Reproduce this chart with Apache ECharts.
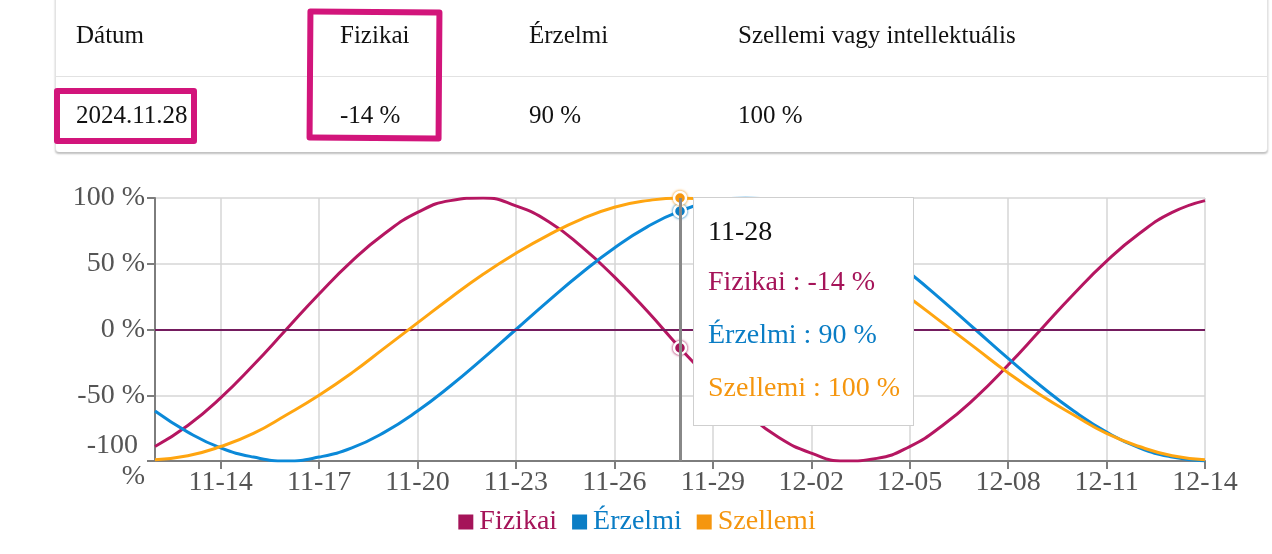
<!DOCTYPE html>
<html>
<head>
<meta charset="utf-8">
<script src="https://cdn.jsdelivr.net/npm/echarts@6/dist/echarts.min.js"></script>
<style>
  html, body { margin: 0; padding: 0; background: #fff; }
  #wrap { position: relative; width: 1272px; height: 554px; overflow: hidden; font-family: 'Liberation Serif', 'Times New Roman', serif; }
  #chart { position: absolute; left: 0; top: 0; width: 1272px; height: 554px; }
  #card { position: absolute; left: 55px; top: -12px; width: 1211px; height: 164px; background: #fff;
          border-left: 1px solid #e3e3e3; border-right: 1px solid #e3e3e3; border-radius: 0 0 4px 4px;
          box-shadow: 0 2px 2px rgba(0,0,0,0.25); z-index: 2; }
  .cell { position: absolute; font-family: 'Liberation Serif', 'Times New Roman', serif; font-size: 25px; color: #111; white-space: nowrap; line-height: 1; }
  #sep { position: absolute; left: 0; right: 0; top: 88px; height: 1px; background: #e2e2e2; }
  .mark { position: absolute; border: 6px solid #d2157b; border-radius: 3px; z-index: 3; }
</style>
</head>
<body>
<div id="wrap">
  <div id="chart"></div>
  <div id="card"></div>
  <div class="mark" id="m1" style="left:54px; top:88px; width:131px; height:44px;"></div>
  <div class="mark" id="m2" style="left:307px; top:9px; width:123px; height:120px; transform: rotate(0.4deg);"></div>
</div>
<script>
// ---- data ----
const headers = ['Dátum', 'Fizikai', 'Érzelmi', 'Szellemi vagy intellektuális'];
const rowValues = ['2024.11.28', '-14 %', '90 %', '100 %'];
const dates = ['11-12','11-13','11-14','11-15','11-16','11-17','11-18','11-19','11-20','11-21','11-22','11-23','11-24','11-25','11-26','11-27','11-28','11-29','11-30','12-01','12-02','12-03','12-04','12-05','12-06','12-07','12-08','12-09','12-10','12-11','12-12','12-13','12-14'];
const fizikai = [-89,-73,-52,-27,0,27,52,73,89,98,100,94,82,63,40,14,-14,-40,-63,-82,-94,-100,-98,-89,-73,-52,-27,0,27,52,73,89,98];
const erzelmi = [-62,-78,-90,-97,-100,-97,-90,-78,-62,-43,-22,0,22,43,62,78,90,97,100,97,90,78,62,43,22,0,-22,-43,-62,-78,-90,-97,-100];
const szellemi = [-99,-96,-89,-79,-65,-50,-33,-14,5,24,42,58,72,84,93,98,100,98,93,84,72,58,42,24,5,-14,-33,-50,-65,-79,-89,-96,-99];
const seriesNames = ['Fizikai', 'Érzelmi', 'Szellemi'];
const colors = ['#a51459', '#0a7dc5', '#f5960f'];
const yTicks = { min: -100, max: 100, interval: 50 };
const selectedIndex = 16;

// ---- table ----
const card = document.getElementById('card');
const colX = [20, 284, 473, 682];
headers.forEach((h, i) => {
  const d = document.createElement('div'); d.className = 'cell'; d.textContent = h;
  d.style.left = colX[i] + 'px'; d.style.top = '34px'; card.appendChild(d);
});
rowValues.forEach((v, i) => {
  const d = document.createElement('div'); d.className = 'cell'; d.textContent = v;
  d.style.left = colX[i] + 'px'; d.style.top = '114px'; card.appendChild(d);
});
const sep = document.createElement('div'); sep.id = 'sep'; card.appendChild(sep);

// ---- chart ----
const FONT = 'Liberation Serif';
const chart = echarts.init(document.getElementById('chart'), null, { renderer: 'canvas' });
const every3 = (idx) => idx % 3 === 2;
const dataLists = [fizikai, erzelmi, szellemi];
const ttFont = "font-family:'Liberation Serif','Times New Roman',serif;font-size:28px;";

const option = {
  animation: false,
  textStyle: { fontFamily: FONT },
  grid: { left: 155, right: 67, top: 198, bottom: 93, containLabel: false },
  tooltip: {
    trigger: 'axis',
    triggerOn: 'none',
    alwaysShowContent: true,
    backgroundColor: '#fff',
    borderColor: '#cfcfcf',
    borderWidth: 1,
    borderRadius: 0,
    padding: [10, 13, 12, 14],
    extraCssText: 'box-shadow:none;',
    textStyle: { fontFamily: FONT, fontSize: 28 },
    axisPointer: { type: 'line', lineStyle: { color: '#888', width: 3, type: 'solid' }, animation: false },
    position: function (point) { return [point[0] + 13, 197]; },
    formatter: function (params) {
      let s = '<div style="' + ttFont + 'line-height:46px;color:#111">' + params[0].axisValue + '</div>';
      params.forEach(p => {
        s += '<div style="' + ttFont + 'line-height:53px;color:' + p.color + '">' + p.seriesName + ' : ' + p.value + ' %</div>';
      });
      return s;
    }
  },
  legend: {
    bottom: 13,
    left: 'center',
    icon: 'rect',
    itemWidth: 17,
    itemHeight: 17,
    itemGap: 13,
    textStyle: { fontFamily: FONT, fontSize: 28, padding: [0, 0, 0, 0] },
    data: seriesNames.map((n, i) => ({ name: n, textStyle: { color: colors[i] } }))
  },
  xAxis: {
    type: 'category',
    data: dates,
    boundaryGap: false,
    axisLine: { onZero: false, lineStyle: { color: '#7d7d7d', width: 2 } },
    axisTick: { show: true, interval: every3, length: 8, lineStyle: { color: '#7d7d7d', width: 2 } },
    axisLabel: { interval: every3, color: '#555', fontFamily: FONT, fontSize: 28, margin: 8 },
    splitLine: { show: true, interval: every3, lineStyle: { color: '#d6d6d6', width: 1.5 } }
  },
  yAxis: {
    type: 'value',
    min: yTicks.min, max: yTicks.max, interval: yTicks.interval,
    axisLine: { show: true, lineStyle: { color: '#7d7d7d', width: 2 } },
    axisTick: { show: true, length: 8, lineStyle: { color: '#7d7d7d', width: 2 } },
    axisLabel: { formatter: '{value} %', color: '#555', fontFamily: FONT, fontSize: 28, margin: 10,
                 width: 76, overflow: 'break', lineHeight: 31, align: 'right' },
    splitLine: { show: true, lineStyle: { color: '#d6d6d6', width: 1.5 } }
  },
  series: seriesNames.map((n, i) => ({
    name: n,
    type: 'line',
    data: dataLists[i],
    smooth: true,
    showSymbol: false,
    symbol: 'circle',
    symbolSize: 12,
    color: colors[i],
    lineStyle: { width: 3, color: colors[i] },
    itemStyle: { color: colors[i], borderColor: '#fff', borderWidth: 2.5, shadowBlur: 3, shadowColor: colors[i] },
    emphasis: { scale: false, focus: 'none', lineStyle: { width: 3 },
                itemStyle: { color: colors[i], borderColor: '#fff', borderWidth: 2.5, shadowBlur: 3, shadowColor: colors[i] } },
    z: 3 + i,
    markLine: i === 0 ? {
      silent: true, symbol: 'none', animation: false,
      label: { show: false },
      lineStyle: { color: '#741c5e', width: 2, type: 'solid' },
      emphasis: { disabled: true },
      data: [{ yAxis: 0 }]
    } : undefined
  }))
};
chart.setOption(option);
chart.dispatchAction({ type: 'showTip', seriesIndex: 0, dataIndex: selectedIndex });
</script>
</body>
</html>
